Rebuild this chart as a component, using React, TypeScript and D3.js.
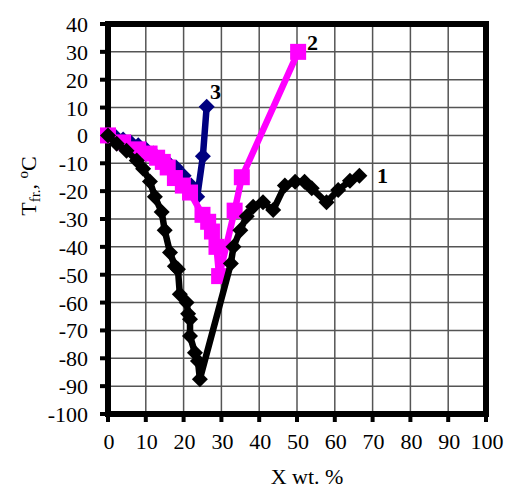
import React from "react";
import * as d3 from "d3";

// Series 1 (black, diamonds)
const s1X = [0, 2.3, 4.9, 7.6, 9.3, 11.1, 12.4, 14.2, 15, 16.4, 17.7, 18.5, 19, 20.8, 21.2, 21.7, 21.7, 23, 23.8, 24.3, 32.5, 33.2, 35, 36.7, 38.4, 41, 43.7, 46.8, 49.5, 52, 53.9, 57.8, 60.9, 64, 66.5];
const s1Y = [0, -3, -5.5, -9, -12, -16.5, -22, -27.5, -34, -42, -47, -48, -57, -60, -64, -66, -72, -78, -81, -87.5, -46, -40, -34, -29, -25.6, -24, -26.8, -18, -16.6, -16.6, -19, -24, -19.6, -16.3, -14.5];
// Series 2 (magenta, squares)
const s2X = [0, 4, 8, 11, 13, 14.5, 15.8, 17.7, 19.8, 21.7, 25, 26.5, 27.5, 28.7, 29.4, 33.5, 35.4, 50.3];
const s2Y = [0, -2.5, -5, -6.5, -8, -9.5, -11.5, -15.3, -18, -20.5, -28.5, -31, -34.5, -40, -50.5, -27, -15, 30];
// Series 3 (navy, diamonds)
const s3X = [0, 2, 4, 6, 8, 10, 12, 14, 16, 18, 20, 22, 23.6, 25.1, 26.1];
const s3Y = [0, -0.5, -1.5, -2.5, -3.5, -5, -6.5, -8.5, -10, -11.5, -14.5, -18, -22, -7.5, 10.3];

const xTicks = [0, 10, 20, 30, 40, 50, 60, 70, 80, 90, 100];
const yTicks = [40, 30, 20, 10, 0, -10, -20, -30, -40, -50, -60, -70, -80, -90, -100];

const FONT = "'Liberation Serif', 'Times New Roman', serif";

export default function App() {
  const x = d3.scaleLinear().domain([0, 100]).range([108, 486]);
  const y = d3.scaleLinear().domain([-100, 40]).range([414, 24]);
  const line = d3
    .line<[number, number]>()
    .x((d) => x(d[0]))
    .y((d) => y(d[1]));

  const s1 = s1X.map((v, i) => [v, s1Y[i]] as [number, number]);
  const s2 = s2X.map((v, i) => [v, s2Y[i]] as [number, number]);
  const s3 = s3X.map((v, i) => [v, s3Y[i]] as [number, number]);

  const diamond = (cx: number, cy: number, r: number) =>
    `M${cx},${cy - r}L${cx + r},${cy}L${cx},${cy + r}L${cx - r},${cy}Z`;

  return (
    <svg
      width={507}
      height={490}
      style={{ position: "absolute", left: 0, top: 0, background: "#fff" }}
    >
      {/* grid */}
      {xTicks.slice(1, -1).map((t) => (
        <line key={"gx" + t} x1={x(t)} x2={x(t)} y1={y(40)} y2={y(-100)} stroke="#555" strokeWidth={1.5} />
      ))}
      {yTicks.slice(1, -1).map((t) => (
        <line key={"gy" + t} x1={x(0)} x2={x(100)} y1={y(t)} y2={y(t)} stroke="#555" strokeWidth={1.5} />
      ))}
      {/* frame */}
      <rect x={x(0)} y={y(40)} width={x(100) - x(0)} height={y(-100) - y(40)} fill="none" stroke="#000" strokeWidth={6} />
      {/* ticks */}
      {yTicks.map((t) => (
        <line key={"ty" + t} x1={x(0) - 8} x2={x(0)} y1={y(t)} y2={y(t)} stroke="#000" strokeWidth={4} />
      ))}
      {xTicks.map((t) => (
        <line key={"tx" + t} x1={x(t)} x2={x(t)} y1={y(-100)} y2={y(-100) + 8} stroke="#000" strokeWidth={4} />
      ))}
      {/* tick labels */}
      {yTicks.map((t) => (
        <text key={"ly" + t} x={88} y={y(t) + 8} textAnchor="end" fontFamily={FONT} fontSize={22}>
          {t}
        </text>
      ))}
      {xTicks.map((t) => (
        <text key={"lx" + t} x={x(t) + 1} y={449} textAnchor="middle" fontFamily={FONT} fontSize={22}>
          {t}
        </text>
      ))}
      {/* axis titles */}
      <text x={307} y={484} textAnchor="middle" fontFamily={FONT} fontSize={22}>
        X wt. %
      </text>
      <text
        transform="translate(36,186) rotate(-90)"
        textAnchor="middle"
        fontFamily={FONT}
        fontSize={22}
      >
        T<tspan fontSize={15} dy={4}>fr.</tspan>
        <tspan dy={-4}>, </tspan>
        <tspan fontSize={15} dy={-8}>o</tspan>
        <tspan dy={8}>C</tspan>
      </text>

      {/* series 3 navy */}
      <path d={line(s3) ?? ""} fill="none" stroke="#000080" strokeWidth={6.5} strokeLinejoin="round" />
      {s3.map((d, i) => (
        <path key={"m3" + i} d={diamond(x(d[0]), y(d[1]), 8)} fill="#000080" />
      ))}
      {/* series 2 magenta */}
      <path d={line(s2) ?? ""} fill="none" stroke="#ff00ff" strokeWidth={6.5} strokeLinejoin="round" />
      {s2.map((d, i) => (
        <rect key={"m2" + i} x={x(d[0]) - 8} y={y(d[1]) - 8} width={16} height={16} fill="#ff00ff" />
      ))}
      {/* series 1 black */}
      <path d={line(s1) ?? ""} fill="none" stroke="#000" strokeWidth={6.5} strokeLinejoin="round" />
      {s1.map((d, i) => (
        <path key={"m1" + i} d={diamond(x(d[0]), y(d[1]), 8)} fill="#000" />
      ))}

      {/* series labels */}
      <text x={377} y={183} fontFamily={FONT} fontSize={22} fontWeight="bold">1</text>
      <text x={307} y={50} fontFamily={FONT} fontSize={22} fontWeight="bold">2</text>
      <text x={210} y={99} fontFamily={FONT} fontSize={22} fontWeight="bold">3</text>
    </svg>
  );
}
